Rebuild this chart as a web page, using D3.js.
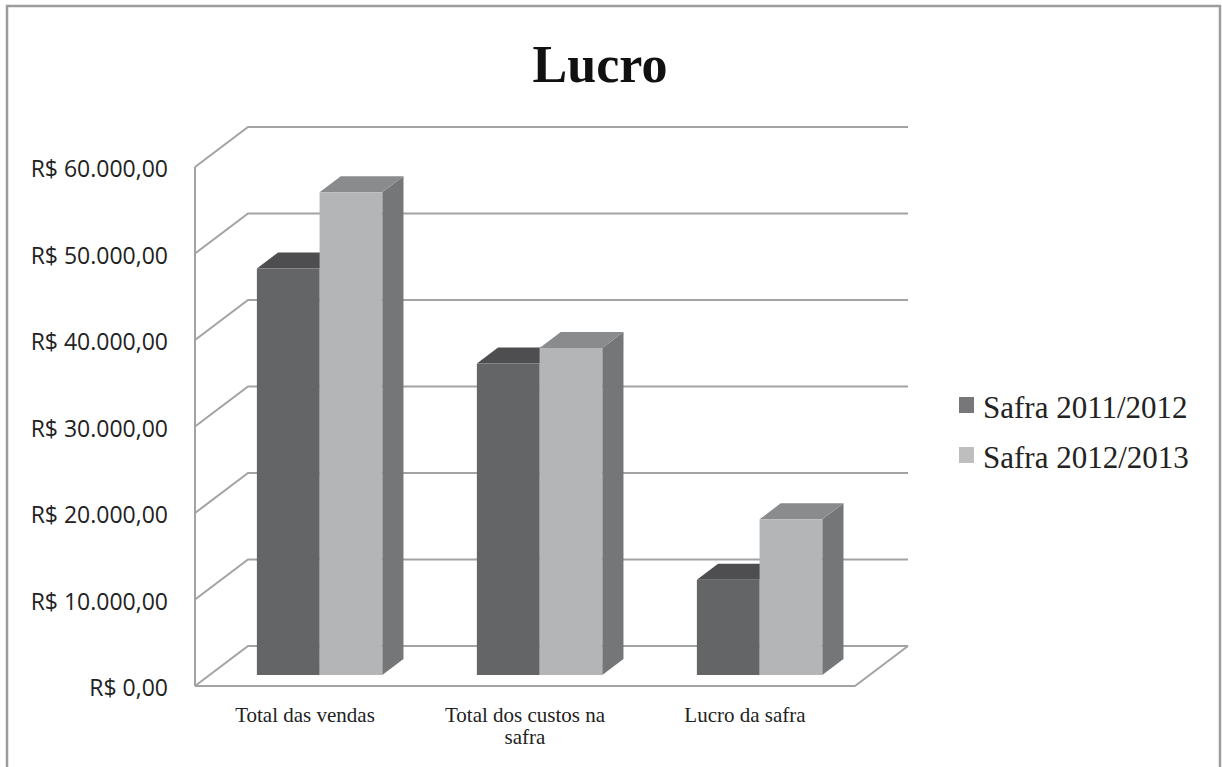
<!DOCTYPE html>
<html>
<head>
<meta charset="utf-8">
<script src="https://cdn.jsdelivr.net/npm/d3@7"></script>
<style>
  body { margin: 0; background: #fff; }
</style>
</head>
<body>
<div id="chart"></div>
<script>
var categories = ["Total das vendas", "Total dos custos na safra", "Lucro da safra"];
var seriesNames = ["Safra 2011/2012", "Safra 2012/2013"];
var safra1112 = [47000, 36000, 11000];
var safra1213 = [55800, 37800, 18000];
var yTicks = [0, 10000, 20000, 30000, 40000, 50000, 60000];
var tickLabels = ["R$ 0,00", "R$ 10.000,00", "R$ 20.000,00", "R$ 30.000,00", "R$ 40.000,00", "R$ 50.000,00", "R$ 60.000,00"];

var W = 1222, H = 767;
var depthX = 53, depthY = -40;   // full depth of the floor
var barFront = 0.275, barBack = 0.675;

var colours = [
  { front: "#646567", top: "#4e4e50", side: "#565658", key: "#77777a" },
  { front: "#b4b5b7", top: "#8a8b8d", side: "#757678", key: "#bebebf" }
];

var svg = d3.select("#chart").append("svg")
  .attr("width", W)
  .attr("height", H);

// outer border
svg.append("rect")
  .attr("x", 7).attr("y", 6)
  .attr("width", 1213).attr("height", 780)
  .attr("fill", "none")
  .attr("stroke", "#9d9d9d")
  .attr("stroke-width", 2.5);

svg.append("text")
  .attr("x", 600).attr("y", 82)
  .attr("text-anchor", "middle")
  .style("font-family", "'Liberation Serif', serif")
  .style("font-weight", "bold")
  .style("font-size", "52px")
  .attr("fill", "#111")
  .text("Lucro");

var x0 = 195, x1 = 855;
var y = d3.scaleLinear().domain([0, 60000]).range([686, 167]);
var x = d3.scaleBand().domain(categories).range([x0, x1])
  .paddingInner(0.43).paddingOuter(0.215);
var xs = d3.scaleBand().domain(seriesNames).range([0, x.bandwidth()]);

function P(px, py, d) {
  return [px + depthX * d, py + depthY * d];
}
var line = d3.line();

var grid = svg.append("g")
  .attr("fill", "none")
  .attr("stroke", "#a3a3a3")
  .attr("stroke-width", 2);

// left wall and back wall gridlines
yTicks.forEach(function (t) {
  var a = P(x0, y(t), 0), b = P(x0, y(t), 1), c = P(x1, y(t), 1);
  grid.append("path").attr("d", line([a, b, c]));
});
grid.append("path").attr("d", line([[x0, y(60000)], [x0, y(0)]]));
// floor front and right edge
grid.append("path").attr("d", line([P(x0, y(0), 0), P(x1, y(0), 0), P(x1, y(0), 1)]));

// y labels
svg.append("g").selectAll("text")
  .data(yTicks)
  .enter().append("text")
  .attr("x", 168)
  .attr("y", function (d) { return y(d) + 2; })
  .attr("dy", "0.35em")
  .attr("text-anchor", "end")
  .style("font-family", "'Open Sans', sans-serif")
  .style("font-size", "23px")
  .attr("fill", "#222")
  .text(function (d, i) { return tickLabels[i]; });

// bars
var series = [safra1112, safra1213];
var bars = svg.append("g");
categories.forEach(function (cat, ci) {
  series.forEach(function (vals, si) {
    var col = colours[si];
    var left = x(cat) + xs(seriesNames[si]);
    var right = left + xs.bandwidth();
    var top = y(vals[ci]), bot = y(0);
    var fl = P(left, top, barFront), fr = P(right, top, barFront);
    var bl = P(left, top, barBack), br = P(right, top, barBack);
    var flb = P(left, bot, barFront), frb = P(right, bot, barFront), brb = P(right, bot, barBack);
    bars.append("path").attr("d", line([fr, br, brb, frb]) + "Z").attr("fill", col.side);
    bars.append("path").attr("d", line([fl, bl, br, fr]) + "Z").attr("fill", col.top);
    bars.append("path").attr("d", line([fl, fr, frb, flb]) + "Z").attr("fill", col.front);
  });
});

// category labels
var catLines = [["Total das vendas"], ["Total dos custos na", "safra"], ["Lucro da safra"]];
var xl = svg.append("g");
categories.forEach(function (cat, i) {
  var cx = x(cat) + x.bandwidth() / 2;
  var t = xl.append("text")
    .attr("x", cx)
    .attr("y", 722)
    .attr("text-anchor", "middle")
    .style("font-family", "'Liberation Serif', serif")
    .style("font-size", "21px")
    .attr("fill", "#222");
  catLines[i].forEach(function (s, k) {
    t.append("tspan").attr("x", cx).attr("dy", k ? 22 : 0).text(s);
  });
});

// legend
var lg = svg.append("g");
seriesNames.forEach(function (s, i) {
  var yy = 397 + i * 50;
  lg.append("rect")
    .attr("x", 959).attr("y", yy)
    .attr("width", 15).attr("height", 16)
    .attr("fill", colours[i].key);
  lg.append("text")
    .attr("x", 983).attr("y", yy + 21)
    .style("font-family", "'Liberation Serif', serif")
    .style("font-size", "31px")
    .attr("fill", "#222")
    .text(s);
});
</script>
</body>
</html>
